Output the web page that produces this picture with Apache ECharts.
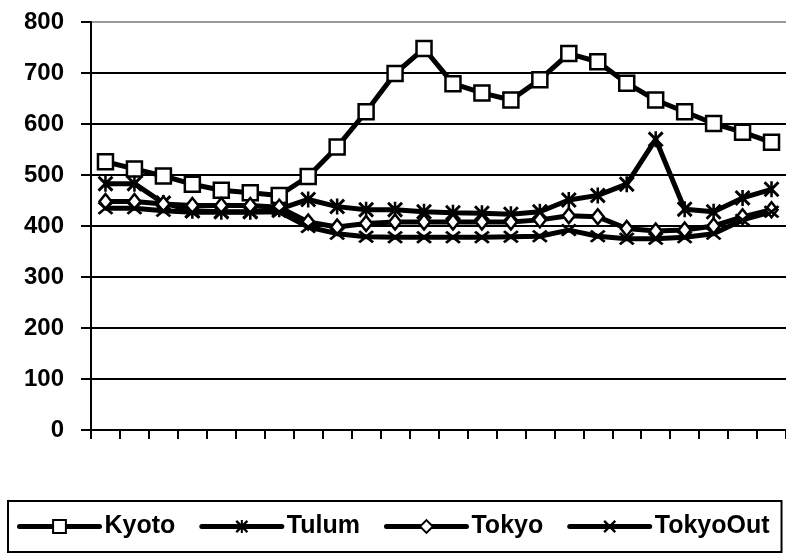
<!DOCTYPE html>
<html>
<head>
<meta charset="utf-8">
<script src="https://cdn.jsdelivr.net/npm/echarts@6/dist/echarts.min.js"></script>
<style>
  html, body { margin: 0; padding: 0; background: #fff; }
  #chart { width: 786px; height: 560px; }
</style>
</head>
<body>
<div id="chart"></div>
<script>
// x categories (axis shows ticks only, no labels)
const categories = ['1', '2', '3', '4', '5', '6', '7', '8', '9', '10', '11', '12',
  '13', '14', '15', '16', '17', '18', '19', '20', '21', '22', '23', '24'];

const kyoto = [526, 512, 498, 482, 470, 465, 460, 497, 555, 624, 699, 748,
  679, 661, 647, 687, 738, 722, 680, 647, 624, 601, 584, 564];
const tulum = [483, 483, 445, 430, 428, 428, 433, 452, 438, 432, 432, 428,
  426, 425, 423, 428, 451, 460, 482, 570, 433, 428, 455, 472];
const tokyo = [448, 448, 443, 440, 440, 440, 437, 408, 398, 405, 408, 408,
  408, 408, 408, 412, 420, 418, 395, 390, 392, 400, 418, 432];
const tokyoOut = [435, 435, 430, 427, 427, 427, 428, 398, 385, 379, 378, 378,
  378, 378, 379, 380, 392, 380, 375, 375, 378, 385, 412, 428];

const yTicks = ['0', '100', '200', '300', '400', '500', '600', '700', '800'];

// marker shapes
const xMark = 'path://M0,1.3L1.3,0L5,3.7L8.7,0L10,1.3L6.3,5L10,8.7L8.7,10L5,6.3L1.3,10L0,8.7L3.7,5Z';
const starMark = 'path://M0,1.3L1.3,0L5,3.7L8.7,0L10,1.3L6.3,5L10,8.7L8.7,10L5,6.3L1.3,10L0,8.7L3.7,5Z' +
  'M4.2,0L5.8,0L5.8,10L4.2,10Z';

const chart = echarts.init(document.getElementById('chart'));

function lineSeries(name, data, symbol, size, filled) {
  return {
    name: name,
    type: 'line',
    data: data,
    symbol: symbol,
    symbolSize: size,
    showAllSymbol: true,
    lineStyle: { color: '#000', width: 5 },
    itemStyle: filled
      ? { color: '#000', borderWidth: 0 }
      : { color: '#fff', borderColor: '#000', borderWidth: 2.5 },
    emphasis: { disabled: true },
  };
}

const option = {
  backgroundColor: '#fff',
  animation: false,
  textStyle: { fontFamily: 'Liberation Sans' },
  grid: { left: 91, top: 22, width: 700, height: 408, containLabel: false },
  xAxis: {
    type: 'category',
    data: categories,
    boundaryGap: true,
    axisLine: { lineStyle: { color: '#000', width: 2 } },
    axisTick: { show: true, length: 9, lineStyle: { color: '#000', width: 2 } },
    axisLabel: { show: false },
    splitLine: { show: false },
  },
  yAxis: {
    type: 'value',
    min: 0,
    max: 800,
    interval: 100,
    axisLine: { show: true, lineStyle: { color: '#000', width: 2 } },
    axisTick: { show: true, length: 10, lineStyle: { color: '#000', width: 2 } },
    axisLabel: {
      color: '#000',
      fontSize: 24,
      fontWeight: 'bold',
      margin: 27,
      formatter: (v) => yTicks[Math.round(v / 100)],
    },
    splitLine: {
      lineStyle: {
        color: ['#000', '#000', '#000', '#000', '#000', '#000', '#000', '#000', '#999'],
        width: 2,
      },
    },
  },
  legend: {
    left: 8,
    top: 501,
    orient: 'horizontal',
    itemWidth: 80,
    itemHeight: 16,
    itemGap: 24,
    padding: [13, 12, 13, 9],
    borderColor: '#000',
    borderWidth: 2,
    textStyle: { color: '#000', fontSize: 25, fontWeight: 'bold', fontFamily: 'Liberation Sans' },
    lineStyle: { width: 5, cap: 'round' },
    data: ['Kyoto', 'Tulum', 'Tokyo', 'TokyoOut'],
  },
  series: [
    lineSeries('Kyoto', kyoto, 'rect', 15, false),
    lineSeries('Tulum', tulum, starMark, 16, true),
    lineSeries('Tokyo', tokyo, 'diamond', [12, 15], false),
    lineSeries('TokyoOut', tokyoOut, xMark, [16, 13], true),
  ],
};

chart.setOption(option);
</script>
</body>
</html>
